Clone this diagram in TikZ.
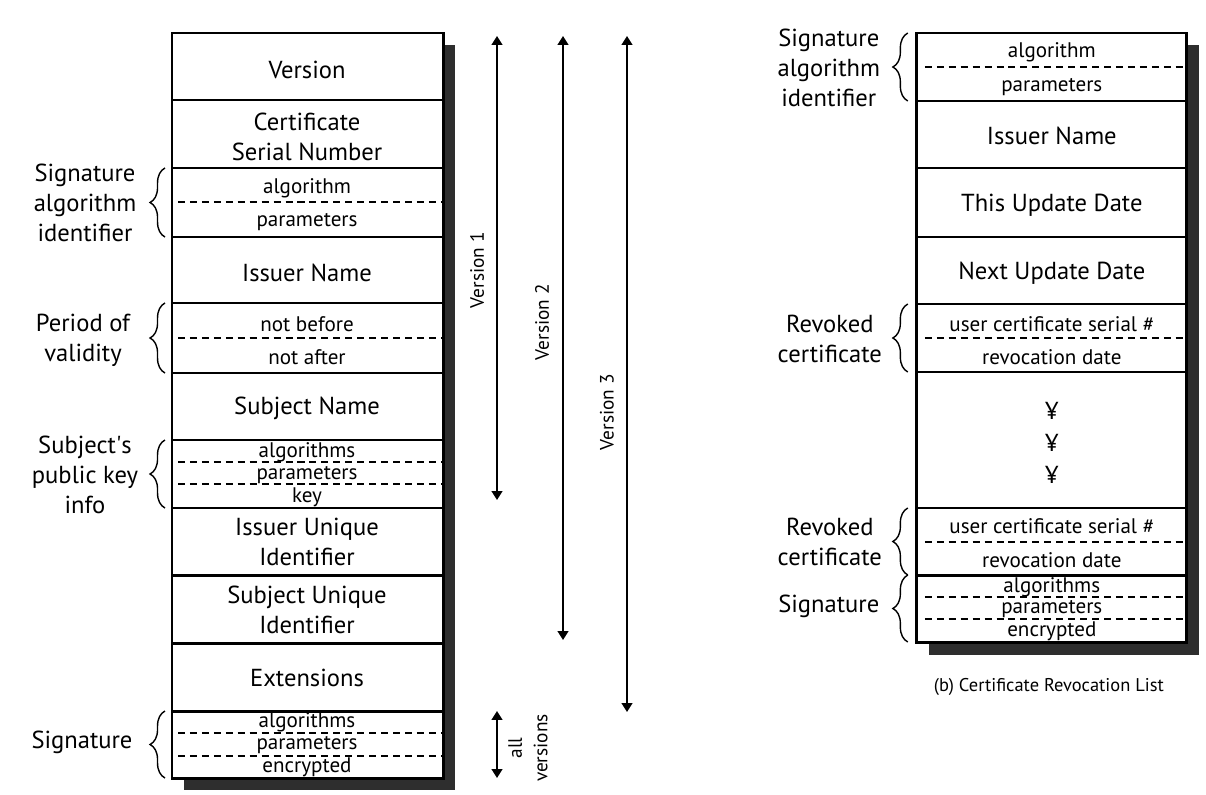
\documentclass[tikz,border=0pt]{standalone}
\usepackage{fontspec}
\setmainfont{PT Sans}
\usetikzlibrary{arrows.meta,decorations.pathreplacing}

\tikzset{
	campo/.style={font=\fontsize{14}{17}\selectfont, align=center, inner sep=0pt},
	sub/.style={font=\fontsize{12}{14}\selectfont, inner sep=0pt},
	rotulo/.style={font=\fontsize{14}{17}\selectfont, align=center, inner sep=0pt},
	moldura/.style={line width=1.7pt},
	tracejado/.style={line width=1.1pt, dash pattern=on 4pt off 2.8pt},
	sombra/.style={fill=black!82},
	chave/.style={decorate, decoration={brace, amplitude=8.5pt}, line width=0.8pt},
	seta/.style={{Triangle[width=6pt,length=5pt]}-{Triangle[width=6pt,length=5pt]}, line width=1.1pt},
	versao/.style={font=\fontsize{11}{14.5}\selectfont, rotate=90, align=center, inner sep=0pt}
}

\begin{document}
\begin{tikzpicture}[x=0.02cm, y=-0.02cm]
\useasboundingbox (0,0) rectangle (1206,794);

% Certificado
	\fill[sombra] (184,45) rectangle (455,790);
	\draw[moldura, fill=white] (172,33) rectangle (443,778);

	\foreach \y in {100,168,237,303,373,440,508,575,643,711}
		\draw[moldura] (172,\y) -- (443,\y);

	\foreach \y in {202,338,462,484,733,756}
		\draw[tracejado] (178,\y) -- (443,\y);

	\foreach \y/\t [count=\i] in {70/Version, 137/{Certificate\\Serial Number}, 273/Issuer Name,
		408/Subject Name, 542/{Issuer Unique\\Identifier}, 610/{Subject Unique\\Identifier}, 678/Extensions}
		\node[campo] (c\i) at (307,\y) {\t};

	\foreach \y/\t [count=\i] in {188/algorithm, 222/parameters, 324/not before, 357/not after,
		452/algorithms, 475/parameters, 497/key, 722/algorithms, 745/parameters, 767/encrypted}
		\node[sub] (s\i) at (307,\y) {\t};

	\node[rotulo] (salg) at (85,203) {Signature\\algorithm\\identifier};
	\node[rotulo] (per) at (83,340) {Period of\\validity};
	\node[rotulo] (spki) at (85,475) {Subject\textquotesingle s\\public key\\info};
	\node[rotulo] (sig) at (82,742) {Signature};

	\foreach \a/\b in {168/237, 303/373, 440/508, 711/778}
		\draw[chave] (165,\b) -- (165,\a);

% Versoes
	\coordinate (v0) at (497,36);
	\coordinate (v1) at (497,500);
	\coordinate (w0) at (563,36);
	\coordinate (w1) at (563,640);
	\coordinate (u0) at (627,36);
	\coordinate (u1) at (627,712);
	\coordinate (t0) at (497,711);
	\coordinate (t1) at (497,778);

	\draw[seta] (v0) -- (v1);
	\draw[seta] (w0) -- (w1);
	\draw[seta] (u0) -- (u1);
	\draw[seta] (t0) -- (t1);

	\node[versao] (ver1) at (477,270) {Version 1};
	\node[versao] (ver2) at (542,322) {Version 2};
	\node[versao] (ver3) at (607,412) {Version 3};
	\node[versao] (todas) at (528,748) {all\\versions};

% Lista de revogacao
\begin{scope}[xshift=18.34cm]
	\fill[sombra] (12,45) rectangle (282,655);
	\draw[moldura, fill=white] (0,33) rectangle (270,642);

	\foreach \y in {101,168,237,304,372,508,575}
		\draw[moldura] (0,\y) -- (270,\y);

	\foreach \y in {67,338,542,597,619}
		\draw[tracejado] (8,\y) -- (270,\y);

	\foreach \y/\t [count=\i] in {136/Issuer Name, 205/This Update Date, 273/Next Update Date}
		\node[campo] (r\i) at (135,\y) {\t};

	\foreach \y [count=\i] in {411,443,475}
		\node[campo] (y\i) at (135,\y) {¥};

	\foreach \y/\t [count=\i] in {52/algorithm, 87/parameters, 324/user certificate serial \#,
		357/revocation date, 526/user certificate serial \#, 560/revocation date,
		587/algorithms, 609/parameters, 631/encrypted}
		\node[sub] (q\i) at (135,\y) {\t};

	\node[rotulo] (rsalg) at (-88,68) {Signature\\algorithm\\identifier};
	\node[rotulo] (rev1) at (-87,339) {Revoked\\certificate};
	\node[rotulo] (rev2) at (-87,542) {Revoked\\certificate};
	\node[rotulo] (rsig) at (-88,606) {Signature};

	\foreach \a/\b in {33/101, 304/372, 508/575, 575/642}
		\draw[chave] (-9,\b) -- (-9,\a);

	\node[font=\fontsize{10.5}{12}\selectfont, inner sep=0pt] (leg) at (132,687) {(b) Certificate Revocation List};
\end{scope}
\end{tikzpicture}
\end{document}
